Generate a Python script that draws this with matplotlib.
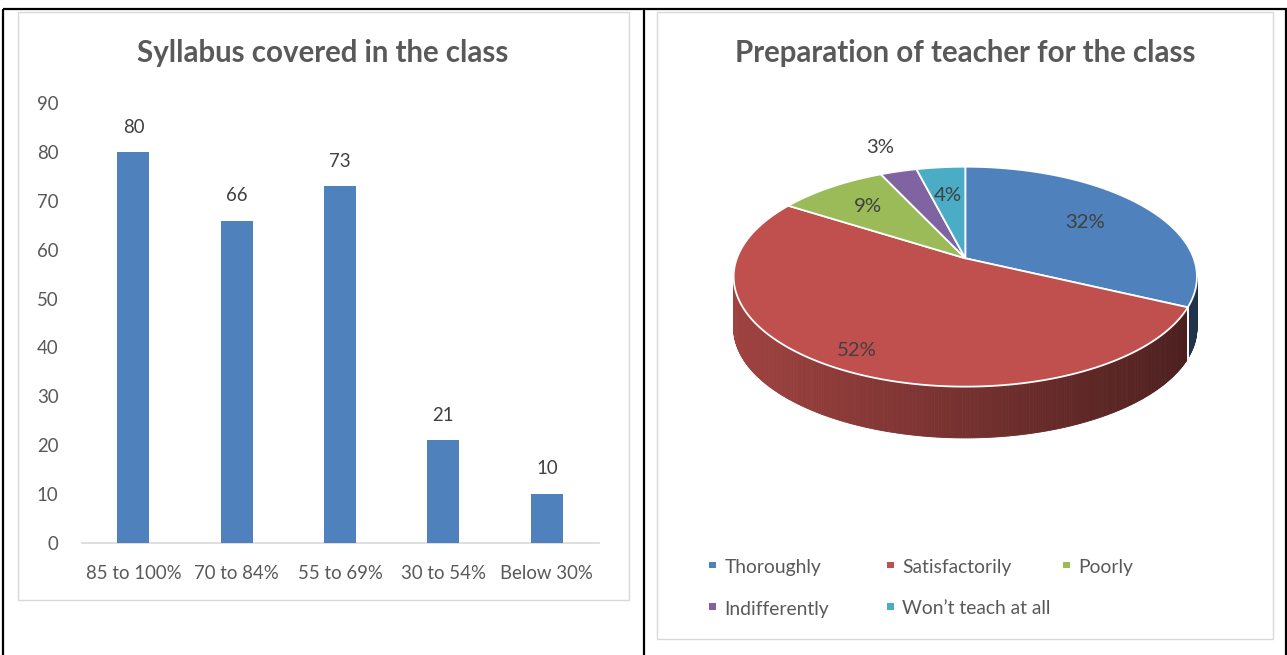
import numpy as np
import matplotlib
matplotlib.use("Agg")
import matplotlib.pyplot as plt
from matplotlib.patches import Polygon, Rectangle
from matplotlib.colors import to_rgb

# ---------------- data ----------------
bar_title = "Syllabus covered in the class"
bar_categories = ["85 to 100%", "70 to 84%", "55 to 69%", "30 to 54%", "Below 30%"]
bar_values = [80, 66, 73, 21, 10]
bar_yticks = [0, 10, 20, 30, 40, 50, 60, 70, 80, 90]

pie_title = "Preparation of teacher for the class"
pie_labels = ["Thoroughly", "Satisfactorily", "Poorly", "Indifferently", "Won\u2019t teach at all"]
pie_values = [32, 52, 9, 3, 4]
pie_colors = ["#4F81BD", "#C0504D", "#9BBB59", "#8064A2", "#4BACC6"]

# ---------------- layout / style ----------------
W, H = 1287, 655
FONT = "Lato"
GRAY = "#595959"
DARK = "#404040"

fig = plt.figure(figsize=(W / 100, H / 100), dpi=100)
fig.patch.set_facecolor("white")
renderer = fig.canvas.get_renderer()


def fit(text, target_px, weight="normal"):
    t = fig.text(0, 0, text, fontsize=10, family=FONT, weight=weight)
    w = t.get_window_extent(renderer).width
    t.remove()
    return 10 * target_px / w


fs_title_l = fit(bar_title, 374, "bold")
fs_title_r = fit(pie_title, 464, "bold")
fs_tick = fit("85 to 100%", 96)
fs_leg = fit("Thoroughly", 97)
fs_pie = fit("32%", 40)

# background axes in pixel coordinates
bg = fig.add_axes([0, 0, 1, 1])
bg.set_xlim(0, W)
bg.set_ylim(H, 0)
bg.axis("off")
bg.set_zorder(0)

# table borders
for xs, ys in [((3, W), (9.3, 9.3)), ((3, 3), (9.3, H)), ((644, 644), (9.3, H)),
               ((1285.5, 1285.5), (9.3, H))]:
    bg.plot(xs, ys, color="black", lw=1.6, solid_capstyle="butt")

# chart boxes
bg.add_patch(Rectangle((17.7, 12), 611.3, 588, fill=False, ec="#D9D9D9", lw=1.0))
bg.add_patch(Rectangle((657, 12), 616, 627, fill=False, ec="#D9D9D9", lw=1.0))

# titles
bg.text(323, 61.8, bar_title, ha="center", va="baseline", fontsize=fs_title_l,
        family=FONT, weight="bold", color=GRAY)
bg.text(965, 61.8, pie_title, ha="center", va="baseline", fontsize=fs_title_r,
        family=FONT, weight="bold", color=GRAY)

# ---------------- bar chart ----------------
ax_top, ax_bot = 103.5, 542.5
ax = fig.add_axes([81.7 / W, 1 - ax_bot / H, 516.8 / W, (ax_bot - ax_top) / H])
ax.set_facecolor("none")
ax.set_zorder(2)
x = np.arange(len(bar_categories))
ax.bar(x, bar_values, width=0.31, color="#4F81BD", zorder=3)
ax.set_xlim(-0.5, len(bar_categories) - 0.5)
ax.set_ylim(0, 90)
ax.set_yticks(bar_yticks)
ax.set_xticks(x)
ax.set_xticklabels(bar_categories)
for s in ("top", "right", "left"):
    ax.spines[s].set_visible(False)
ax.spines["bottom"].set_color("#D9D9D9")
ax.spines["bottom"].set_linewidth(1.2)
ax.tick_params(axis="both", length=0, labelsize=fs_tick, labelcolor=GRAY)
ax.tick_params(axis="y", pad=16.8)
ax.tick_params(axis="x", pad=16)
for lab in ax.get_xticklabels() + ax.get_yticklabels():
    lab.set_family(FONT)
for xi, v in zip(x, bar_values):
    ax.annotate(str(v), (xi, v), xytext=(0, 17.8), textcoords="offset points",
                ha="center", va="center", fontsize=fs_tick, family=FONT, color=DARK)

# ---------------- 3D pie ----------------
cx, cy = 965.3, 258.3
A, B, K = 228.4, 106.9, 0.167
DEPTH = 51.3


def proj(theta_deg, r=1.0, dz=0.0):
    th = np.radians(theta_deg)
    u = r * np.sin(th)
    v = -r * np.cos(th)
    s = 1.0 / (1.0 - K * v)
    return cx + A * u * s, cy + B * v * s + dz


vals = np.array(pie_values, dtype=float)
ends = np.cumsum(vals) / vals.sum() * 360.0
starts = np.concatenate([[0.0], ends[:-1]])

# silhouette angles for visible side
th_r = np.degrees(np.arccos(-K))
th_l = 360.0 - th_r
x_left, _ = proj(th_l)
x_right, _ = proj(th_r)


def shade(color, xpos):
    f0, f1 = 0.83, 0.39
    t = np.clip((xpos - x_left) / (x_right - x_left), 0, 1)
    f = f0 + (f1 - f0) * t
    return tuple(np.array(to_rgb(color)) * f)


# sides
for t1, t2, col in zip(starts, ends, pie_colors):
    lo, hi = max(t1, th_r), min(t2, th_l)
    if hi <= lo:
        continue
    ts = np.linspace(lo, hi, max(int((hi - lo) * 2), 4))
    for a0, a1 in zip(ts[:-1], ts[1:]):
        p0 = proj(a0)
        p1 = proj(a1)
        q1 = proj(a1, dz=DEPTH)
        q0 = proj(a0, dz=DEPTH)
        c = shade(col, 0.5 * (p0[0] + p1[0]))
        bg.add_patch(Polygon([p0, p1, q1, q0], closed=True, fc=c, ec=c, lw=0.6,
                             zorder=3))
    for tb in (t1, t2):
        if th_r < tb < th_l:
            p = proj(tb)
            q = proj(tb, dz=DEPTH)
            bg.plot([p[0], q[0]], [p[1], q[1]], color="white", lw=1.2, zorder=4)

# top faces
for t1, t2, col in zip(starts, ends, pie_colors):
    ts = np.linspace(t1, t2, max(int((t2 - t1) * 2), 6))
    pts = [(cx, cy)] + [proj(t) for t in ts]
    bg.add_patch(Polygon(pts, closed=True, fc=col, ec="white", lw=1.3,
                         joinstyle="round", zorder=5))

# data labels
label_radius = [0.66, 0.86, 0.70, 1.33, 0.66]
for t1, t2, v, r in zip(starts, ends, vals, label_radius):
    lx, ly = proj(0.5 * (t1 + t2), r=r)
    bg.text(lx, ly, f"{v / vals.sum() * 100:.0f}%", ha="center", va="center",
            fontsize=fs_pie, family=FONT, color=DARK, zorder=6)

# legend
leg_cols_x = [712.5, 890.5, 1066.5]
leg_rows_y = [565, 606.5]
for i, (lab, col) in enumerate(zip(pie_labels, pie_colors)):
    mx = leg_cols_x[i % 3]
    my = leg_rows_y[i // 3]
    bg.add_patch(Rectangle((mx - 3.2, my - 3.2), 6.4, 6.4, fc=col, ec="none", zorder=6))
    bg.text(mx + 12, my + 8, lab, ha="left", va="baseline", fontsize=fs_leg,
            family=FONT, color=GRAY, zorder=6)

fig.savefig("out.png", dpi=100, facecolor="white")
